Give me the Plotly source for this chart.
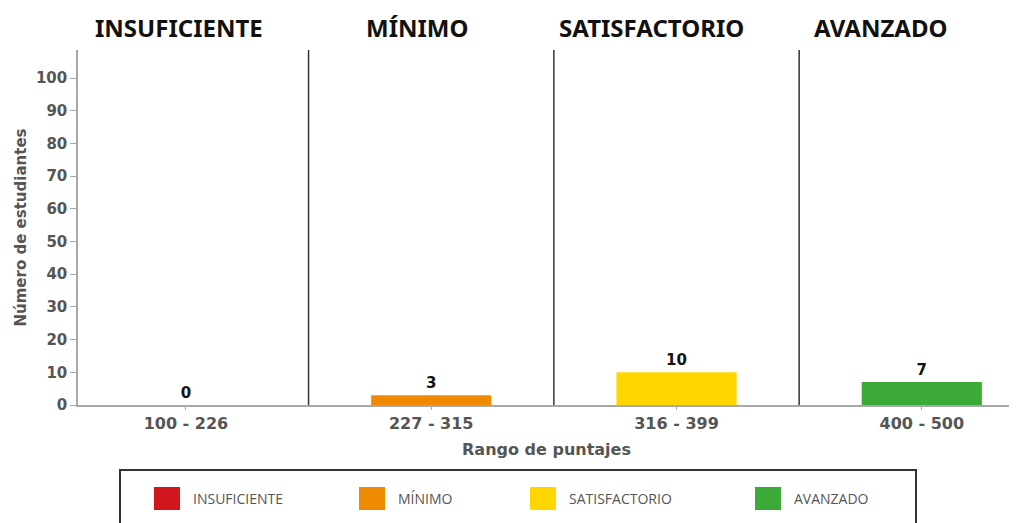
import plotly.graph_objects as go

# --- data ---
niveles = ["INSUFICIENTE", "MÍNIMO", "SATISFACTORIO", "AVANZADO"]
rangos = ["100 - 226", "227 - 315", "316 - 399", "400 - 500"]
estudiantes = [0, 3, 10, 7]
colores = ["#d2161e", "#f08a00", "#ffd600", "#3caa36"]
y_ticks = [0, 10, 20, 30, 40, 50, 60, 70, 80, 90, 100]

# the page body adds an 8px margin, so the figure is a bit smaller
OFF = 8
W, H = 1017 - OFF, 523 - OFF
M_L, M_R, M_T, M_B = 78 - OFF, 2, 50 - OFF, 118
X_RANGE = [-0.44, 3.38]
Y_RANGE = [0, 108.6]


def px_x(px):
    # page pixel -> paper x
    return (px - OFF - M_L) / (W - M_L - M_R)


def px_y(py):
    # page pixel -> paper y
    return (H - M_B - (py - OFF)) / (H - M_B - M_T)


AXIS_FONT = dict(family="DejaVu Sans", color="#555555", weight="bold")

fig = go.Figure()
fig.add_trace(go.Bar(
    x=rangos, y=estudiantes, width=0.49,
    marker=dict(color=colores, line=dict(width=0)),
    text=[str(v) for v in estudiantes], textposition="outside",
    textfont=dict(family="DejaVu Sans", size=15, color="#111111", weight="bold"),
    cliponaxis=False, showlegend=False,
))

# level dividers between score ranges
for i in range(1, len(rangos)):
    fig.add_shape(type="line", xref="x", yref="paper", x0=i - 0.5, x1=i - 0.5,
                  y0=0, y1=1, line=dict(color="#333333", width=1.5))

# level titles across the top
title_pos = [-0.03, 0.94, 1.90, 2.83]
for nivel, xp in zip(niveles, title_pos):
    fig.add_annotation(x=xp, xref="x", y=px_y(27), yref="paper", text=nivel,
                       showarrow=False, xanchor="center", yanchor="middle",
                       font=dict(family="Noto Sans", size=24, color="#111111", weight="bold"))

# legend drawn by hand (boxed, large swatches)
fig.add_shape(type="rect", xref="paper", yref="paper",
              x0=px_x(120), x1=px_x(916), y0=px_y(545), y1=px_y(470),
              line=dict(color="#333333", width=2), fillcolor="rgba(0,0,0,0)")
leg_x = [154, 359, 530, 755]
for nivel, col, lx in zip(niveles, colores, leg_x):
    fig.add_shape(type="rect", xref="paper", yref="paper",
                  x0=px_x(lx), x1=px_x(lx + 26), y0=px_y(510), y1=px_y(487),
                  line=dict(width=0), fillcolor=col)
    fig.add_annotation(x=px_x(lx + 37), xref="paper", y=px_y(498), yref="paper",
                       text=nivel, showarrow=False, xanchor="left", yanchor="middle",
                       font=dict(family="Open Sans", size=14, color="#555555"))

fig.update_layout(
    width=W, height=H,
    margin=dict(l=M_L, r=M_R, t=M_T, b=M_B),
    plot_bgcolor="white", paper_bgcolor="white",
    xaxis=dict(
        type="category", range=X_RANGE,
        showgrid=False, showline=True, linecolor="#a8a8a8", linewidth=2,
        ticks="outside", ticklen=3, tickcolor="#a8a8a8",
        tickfont=dict(size=16, **AXIS_FONT),
        title=dict(text="Rango de puntajes", standoff=12, font=dict(size=16, **AXIS_FONT)),
    ),
    yaxis=dict(
        range=Y_RANGE, tickvals=y_ticks,
        showgrid=False, zeroline=False, showline=True, linecolor="#a8a8a8", linewidth=1.5,
        ticks="outside", ticklen=6, tickcolor="#a8a8a8",
        tickfont=dict(size=15, **AXIS_FONT),
        title=dict(text="Número de estudiantes", standoff=6, font=dict(size=15, **AXIS_FONT)),
    ),
)

fig.write_html("out.html")
